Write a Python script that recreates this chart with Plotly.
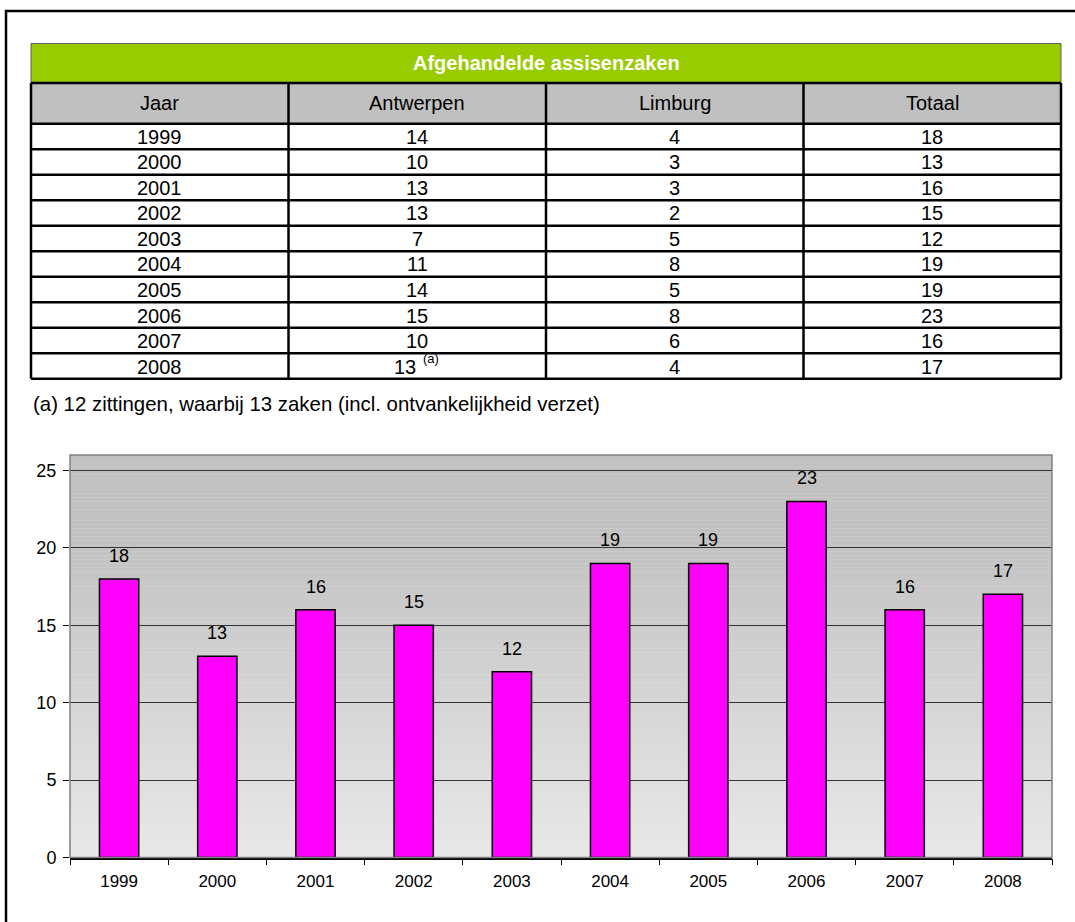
import plotly.graph_objects as go

# ---------------- data ----------------
years = ["1999", "2000", "2001", "2002", "2003", "2004", "2005", "2006", "2007", "2008"]
antwerpen = [14, 10, 13, 13, 7, 11, 14, 15, 10, 13]
limburg = [4, 3, 3, 2, 5, 8, 5, 8, 6, 4]
totaal = [18, 13, 16, 15, 12, 19, 19, 23, 16, 17]
antwerpen_notes = ["", "", "", "", "", "", "", "", "", "(a)"]
col_headers = ["Jaar", "Antwerpen", "Limburg", "Totaal"]
table_title = "Afgehandelde assisenzaken"
footnote = "(a) 12 zittingen, waarbij 13 zaken (incl. ontvankelijkheid verzet)"
y_ticks = [0, 5, 10, 15, 20, 25]

# ---------------- layout helpers ----------------
W, H = 1075, 922
FONT = "Liberation Sans, Arial, sans-serif"


def px(x):
    return x / W


def py(y):
    return 1 - y / H


# table geometry (page pixels)
T_LEFT, T_RIGHT = 31, 1061
T_TITLE_TOP, T_HEAD_TOP, T_BODY_TOP = 44, 84, 125
ROW_H = 25.8
col_w = (T_RIGHT - T_LEFT) / len(col_headers)
col_edges = [T_LEFT + i * col_w for i in range(len(col_headers) + 1)]
col_centers = [(col_edges[i] + col_edges[i + 1]) / 2 for i in range(len(col_headers))]
n_rows = len(years)
row_edges = [T_BODY_TOP + i * ROW_H for i in range(n_rows + 1)]
T_BOTTOM = row_edges[-1]

fig = go.Figure()

# ---------------- bar chart ----------------
fig.add_trace(go.Bar(
    x=years, y=totaal, width=0.4,
    marker=dict(color="#FF00FF", line=dict(color="black", width=1.5)),
    showlegend=False, hoverinfo="skip",
))

shapes = []
# gradient background of plot area
N = 104
ymax = 26
for i in range(N):
    y0 = ymax * i / N
    y1 = ymax * (i + 1) / N
    ym = (y0 + y1) / 2
    if ym >= 21:
        g = 193
    else:
        g = int(round(232 - (232 - 193) * ym / 21))
    shapes.append(dict(type="rect", xref="x domain", yref="y", x0=0, x1=1, y0=y0, y1=y1,
                       fillcolor=f"rgb({g},{g},{g})", line=dict(width=0), layer="below"))
# plot area border (grey)
shapes.append(dict(type="rect", xref="x domain", yref="y domain", x0=0, x1=1, y0=0, y1=1,
                   line=dict(color="#808080", width=1.5), fillcolor="rgba(0,0,0,0)", layer="above"))

# ---------------- table drawn with shapes ----------------
shapes.append(dict(type="rect", xref="paper", yref="paper", x0=px(T_LEFT), x1=px(T_RIGHT),
                   y0=py(T_HEAD_TOP), y1=py(T_TITLE_TOP),
                   fillcolor="#99CC00", line=dict(color="#606060", width=1), layer="above"))
shapes.append(dict(type="rect", xref="paper", yref="paper", x0=px(T_LEFT), x1=px(T_RIGHT),
                   y0=py(T_BODY_TOP), y1=py(T_HEAD_TOP),
                   fillcolor="#C0C0C0", line=dict(width=0), layer="above"))
for yy in [T_HEAD_TOP, T_BODY_TOP] + row_edges[1:]:
    shapes.append(dict(type="line", xref="paper", yref="paper", x0=px(T_LEFT), x1=px(T_RIGHT),
                       y0=py(yy), y1=py(yy), line=dict(color="black", width=2.5), layer="above"))
for xx in col_edges:
    shapes.append(dict(type="line", xref="paper", yref="paper", x0=px(xx), x1=px(xx),
                       y0=py(T_HEAD_TOP), y1=py(T_BOTTOM), line=dict(color="black", width=2.5),
                       layer="above"))

# outer frame lines
shapes.append(dict(type="line", xref="paper", yref="paper", x0=px(6), x1=px(6), y0=py(10), y1=py(940),
                   line=dict(color="black", width=2.5)))
shapes.append(dict(type="line", xref="paper", yref="paper", x0=px(5), x1=px(1075), y0=py(11), y1=py(11),
                   line=dict(color="black", width=2.5)))

annotations = []
TFONT = dict(family=FONT, size=20, color="black")
annotations.append(dict(xref="paper", yref="paper", x=px((T_LEFT + T_RIGHT) / 2),
                        y=py((T_TITLE_TOP + T_HEAD_TOP) / 2), text=f"<b>{table_title}</b>",
                        showarrow=False, font=dict(family=FONT, size=20, color="white"),
                        xanchor="center", yanchor="middle"))
for c, h in enumerate(col_headers):
    annotations.append(dict(xref="paper", yref="paper", x=px(col_centers[c]),
                            y=py((T_HEAD_TOP + T_BODY_TOP) / 2), text=h, showarrow=False,
                            font=TFONT, xanchor="center", yanchor="middle"))
columns = [years, [str(v) for v in antwerpen], [str(v) for v in limburg], [str(v) for v in totaal]]
notes = [[""] * n_rows, antwerpen_notes, [""] * n_rows, [""] * n_rows]
for r in range(n_rows):
    yc = (row_edges[r] + row_edges[r + 1]) / 2 + 0.5
    for c in range(len(columns)):
        if notes[c][r]:
            annotations.append(dict(xref="paper", yref="paper", x=px(col_centers[c]), y=py(yc),
                                    text=columns[c][r], showarrow=False, font=TFONT,
                                    xanchor="right", yanchor="middle", xshift=1))
            annotations.append(dict(xref="paper", yref="paper", x=px(col_centers[c]), y=py(yc),
                                    text=notes[c][r], showarrow=False,
                                    font=dict(family=FONT, size=13, color="black"),
                                    xanchor="left", yanchor="middle", xshift=4, yshift=8))
        else:
            annotations.append(dict(xref="paper", yref="paper", x=px(col_centers[c]), y=py(yc),
                                    text=columns[c][r], showarrow=False, font=TFONT,
                                    xanchor="center", yanchor="middle"))

annotations.append(dict(xref="paper", yref="paper", x=px(31), y=py(408), text=footnote,
                        showarrow=False, font=dict(family=FONT, size=20.4, color="black"),
                        xanchor="left", yanchor="middle"))
for i, v in enumerate(totaal):
    annotations.append(dict(x=i, y=v, xref="x", yref="y", text=str(v), showarrow=False,
                            yanchor="bottom", yshift=11,
                            font=dict(family=FONT, size=18, color="black")))

fig.update_layout(
    width=W, height=H, autosize=False,
    margin=dict(l=0, r=0, t=0, b=0),
    paper_bgcolor="white", plot_bgcolor="#E0E0E0",
    showlegend=False,
    shapes=shapes, annotations=annotations,
    xaxis=dict(
        domain=[px(70), px(1052)], type="category", range=[-0.5, 9.5],
        tickson="boundaries", ticks="outside", ticklen=6, tickcolor="black", tickwidth=1,
        ticklabelstandoff=7,
        showline=True, linecolor="black", linewidth=1.5, showgrid=False,
        tickfont=dict(family=FONT, size=17, color="black"),
    ),
    yaxis=dict(
        domain=[py(867), py(460)], range=[0, ymax], tickvals=y_ticks,
        ticks="outside", ticklen=6, tickcolor="black", tickwidth=1,
        ticklabelstandoff=3,
        showline=False, showgrid=True, gridcolor="#333333", gridwidth=1, zeroline=False,
        tickfont=dict(family=FONT, size=18, color="black"),
    ),
)

fig.write_html(
    "out.html",
    config={"displayModeBar": False},
    post_script="document.body.style.margin='0px';"
                "document.documentElement.style.overflow='hidden';",
)
